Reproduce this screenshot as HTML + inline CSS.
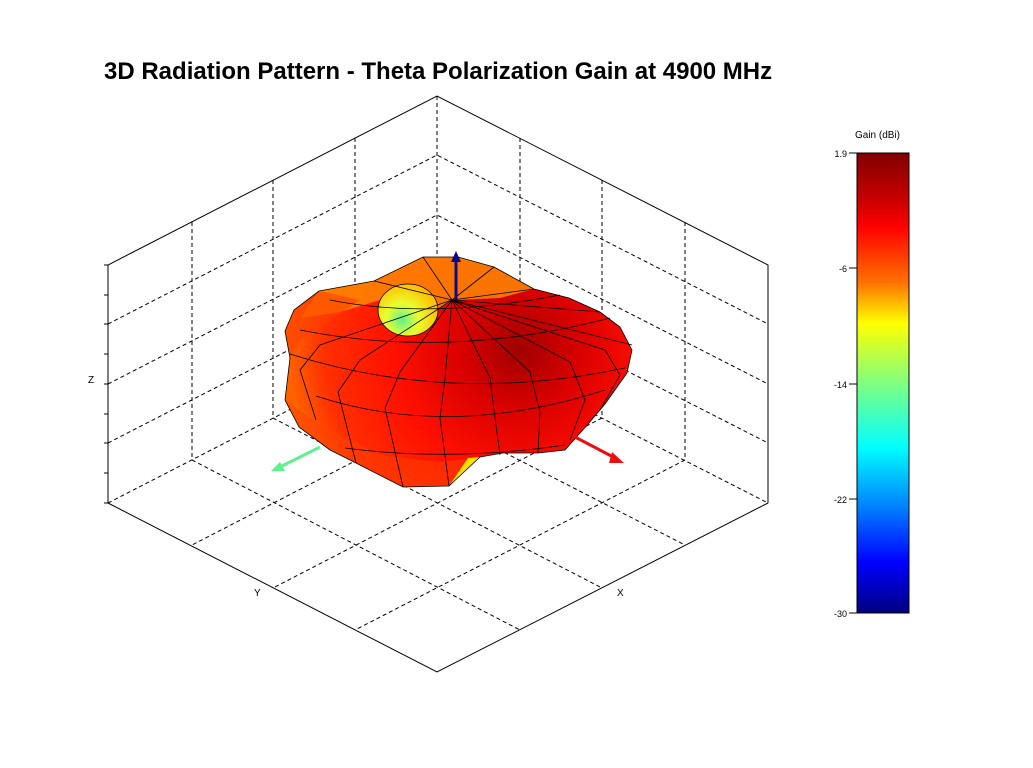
<!DOCTYPE html>
<html><head><meta charset="utf-8"><style>
body{margin:0;background:#fff;}
svg{display:block;font-family:"Liberation Sans",sans-serif;}
</style></head><body>
<svg width="1033" height="768" viewBox="0 0 1033 768">
<defs>
<linearGradient id="jet" x1="0" y1="0" x2="0" y2="1">
<stop offset="0" stop-color="#800000"/>
<stop offset="0.1" stop-color="#c80000"/>
<stop offset="0.16" stop-color="#ff0000"/>
<stop offset="0.28" stop-color="#ff7000"/>
<stop offset="0.37" stop-color="#ffff00"/>
<stop offset="0.5" stop-color="#80ff80"/>
<stop offset="0.64" stop-color="#00ffff"/>
<stop offset="0.77" stop-color="#0080ff"/>
<stop offset="0.89" stop-color="#0000ff"/>
<stop offset="1" stop-color="#000080"/>
</linearGradient>
<radialGradient id="body" cx="520" cy="350" r="230" gradientUnits="userSpaceOnUse">
<stop offset="0" stop-color="#a00000"/>
<stop offset="0.25" stop-color="#d80000"/>
<stop offset="0.55" stop-color="#ff1000"/>
<stop offset="0.85" stop-color="#ff3000"/>
<stop offset="1" stop-color="#ff6000"/>
</radialGradient>
<radialGradient id="hole" cx="402" cy="320" r="36" gradientUnits="userSpaceOnUse">
<stop offset="0" stop-color="#60f090"/>
<stop offset="0.45" stop-color="#e8ff30"/>
<stop offset="1" stop-color="#ffc000"/>
</radialGradient>
</defs>
<text x="104" y="79" font-size="24" font-weight="bold">3D Radiation Pattern - Theta Polarization Gain at 4900 MHz</text>

<g stroke="#000" stroke-width="1" stroke-dasharray="4,3" fill="none">
<line x1="437" y1="96" x2="437" y2="334"/>
<line x1="192" y1="222" x2="192" y2="460"/>
<line x1="273" y1="180" x2="273" y2="418"/>
<line x1="355" y1="138" x2="355" y2="376"/>
<line x1="520" y1="138" x2="520" y2="376"/>
<line x1="602" y1="180" x2="602" y2="418"/>
<line x1="685" y1="222" x2="685" y2="460"/>
<polyline points="108,324 437,155 768,324"/>
<polyline points="108,384 437,215 768,384"/>
<polyline points="108,443 437,274 768,443"/>
<polyline points="108,503 437,334 768,503"/>
<line x1="192" y1="460" x2="520" y2="630"/>
<line x1="273" y1="418" x2="602" y2="588"/>
<line x1="355" y1="376" x2="685" y2="545"/>
<line x1="520" y1="376" x2="192" y2="545"/>
<line x1="602" y1="418" x2="273" y2="588"/>
<line x1="685" y1="460" x2="355" y2="630"/>
</g>

<polygon points="285,331 294,310 319,291 374,281 423,257 458,257 494,267 534,289 569,298 600,312 620,327 632,350 627,373 605,404 589,423 565,450 538,453 503,453 480,457 449,486 403,487 356,463 330,450 299,427 285,400 290,358" fill="url(#body)"/>
<polygon points="319,291 374,281 423,257 458,257 494,267 534,289 500,298 455,300 420,318 380,300 340,312 300,318" fill="#ff9000" opacity="0.8"/>
<polygon points="285,331 294,310 319,291 360,300 330,320 300,340 290,358" fill="#ff4000" opacity="0.6"/>
<ellipse cx="408" cy="310" rx="30" ry="26" fill="url(#hole)"/>
<polygon points="285,400 299,427 330,450 356,463 403,487 449,486 480,457 440,462 380,455 320,425" fill="#ff4000" opacity="0.5"/>
<polygon points="449,486 480,457 468,458" fill="#ffe000"/>
<g stroke="#000" stroke-width="0.8" fill="none">
<polygon points="285,331 294,310 319,291 374,281 423,257 458,257 494,267 534,289 569,298 600,312 620,327 632,350 627,373 605,404 589,423 565,450 538,453 503,453 480,457 449,486 403,487 356,463 330,450 299,427 285,400 290,358"/>
<path d="M290,354 Q450,405 625,368"/>
<path d="M316,396 Q450,440 605,390"/>
<path d="M345,448 Q450,462 565,445"/>
<path d="M300,330 Q450,360 610,318"/>
<path d="M330,300 Q430,320 560,295"/>
<polyline points="452,300 320,345 300,370 316,420"/>
<polyline points="452,300 360,360 338,392 356,463"/>
<polyline points="452,300 400,372 385,408 403,487"/>
<polyline points="452,300 445,378 440,418 449,486"/>
<polyline points="452,300 490,378 495,418 500,455"/>
<polyline points="452,300 530,372 540,412 538,453"/>
<polyline points="452,300 570,362 585,400 570,440"/>
<polyline points="452,300 605,350 620,375 600,410"/>
<line x1="452" y1="300" x2="632" y2="345"/>
<line x1="452" y1="300" x2="600" y2="312"/>
<line x1="452" y1="300" x2="534" y2="289"/>
<line x1="452" y1="300" x2="494" y2="267"/>
<line x1="452" y1="300" x2="423" y2="257"/>
<line x1="452" y1="300" x2="374" y2="281"/>
<ellipse cx="408" cy="310" rx="30" ry="26"/>
</g>

<g stroke-width="3">
<line x1="456" y1="300" x2="456" y2="258" stroke="#0a0a90"/>
<polygon points="451,262 461,262 456,251" fill="#0a0a90"/>
<line x1="575" y1="437" x2="617" y2="459" stroke="#e81010"/>
<polygon points="612,452 609,463 624,463" fill="#e81010"/>
<line x1="320" y1="447" x2="278" y2="468" stroke="#60f090"/>
<polygon points="280,462 285,471 271,471" fill="#60f090"/>
</g>

<g stroke="#000" stroke-width="1" fill="none">
<polyline points="108,503 108,265 437,96 768,265 768,503"/>
<polyline points="108,503 437,672 768,503"/>
</g>
<g stroke="#000" stroke-width="1">
<line x1="104" y1="265" x2="108" y2="265"/><line x1="104" y1="295" x2="108" y2="295"/>
<line x1="104" y1="324" x2="108" y2="324"/><line x1="104" y1="354" x2="108" y2="354"/>
<line x1="104" y1="384" x2="108" y2="384"/><line x1="104" y1="414" x2="108" y2="414"/>
<line x1="104" y1="443" x2="108" y2="443"/><line x1="104" y1="473" x2="108" y2="473"/>
<line x1="104" y1="503" x2="108" y2="503"/>
</g>
<text x="88" y="383" font-size="10">Z</text>
<text x="254" y="596" font-size="10">Y</text>
<text x="617" y="596" font-size="10">X</text>

<text x="855" y="138" font-size="10">Gain (dBi)</text>
<rect x="857" y="153" width="52" height="460" fill="url(#jet)" stroke="#000" stroke-width="1"/>
<g font-size="9" text-anchor="end">
<text x="847" y="157">1.9</text>
<text x="847" y="272">-6</text>
<text x="847" y="388">-14</text>
<text x="847" y="503">-22</text>
<text x="847" y="617">-30</text>
</g>
<g stroke="#000"><line x1="849" y1="153" x2="857" y2="153"/><line x1="849" y1="268" x2="857" y2="268"/><line x1="849" y1="384" x2="857" y2="384"/><line x1="849" y1="499" x2="857" y2="499"/><line x1="849" y1="613" x2="857" y2="613"/></g>
</svg>
</body></html>
